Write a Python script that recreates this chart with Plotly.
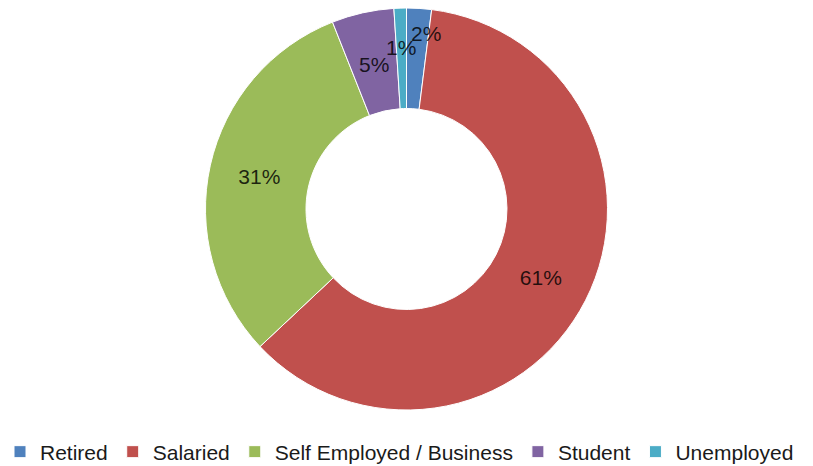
import math
import plotly.graph_objects as go

# Occupation breakdown of respondents
categories = ["Retired", "Salaried", "Self Employed / Business", "Student", "Unemployed"]
shares = [2, 61, 31, 5, 1]
colors = ["#4F81BD", "#C0504D", "#9BBB59", "#8064A2", "#4BACC6"]

W, H = 813, 466
FONT = "Liberation Sans, Arial, sans-serif"
TEXT_COLOR = "rgba(0,0,0,0.82)"

# Donut geometry in pixels (paper has no margins)
cy_px, radius_px = 209, 201
dom_y = [1 - (cy_px + radius_px) / H, 1 - (cy_px - radius_px) / H]
cx_px = W / 2

# Thin slices get their labels as annotations (placed along each slice's
# mid-angle); the wide slices keep the pie's own inside text.
small = [s < 10 for s in shares]
label_radius = {0: 0.875, 3: 0.737, 4: 0.806}
label_xshift = {0: 8, 3: 0, 4: 0}

fig = go.Figure(
    go.Pie(
        labels=categories,
        values=shares,
        hole=0.5,
        sort=False,
        direction="clockwise",
        rotation=0,
        domain=dict(x=[0, 1], y=dom_y),
        marker=dict(colors=colors, line=dict(color="white", width=1)),
        texttemplate=["" if sm else "%{value}%" for sm in small],
        textposition="inside",
        insidetextorientation="horizontal",
        textfont=dict(family=FONT, size=21, color=TEXT_COLOR),
        hoverinfo="label+percent",
    )
)

total = sum(shares)
annotations = []
cum = 0
for i, s in enumerate(shares):
    mid = (cum + s / 2) / total * 2 * math.pi
    cum += s
    if not small[i]:
        continue
    r = label_radius[i] * radius_px
    x_px = cx_px + r * math.sin(mid)
    y_px = cy_px - r * math.cos(mid)
    annotations.append(
        dict(
            x=x_px / W,
            y=1 - y_px / H,
            xref="paper",
            yref="paper",
            xanchor="center",
            yanchor="middle",
            text=f"{s}%",
            showarrow=False,
            xshift=label_xshift[i],
            font=dict(family=FONT, size=21, color=TEXT_COLOR),
        )
    )

fig.update_layout(
    width=W,
    height=H,
    margin=dict(l=0, r=0, t=0, b=0, autoexpand=False),
    paper_bgcolor="white",
    plot_bgcolor="white",
    annotations=annotations,
    showlegend=True,
    legend=dict(
        orientation="h",
        x=0,
        xanchor="left",
        y=1 - 452 / H,
        yanchor="middle",
        font=dict(family=FONT, size=21, color="#1a1a1a"),
        itemclick=False,
    ),
)

fig.write_html("out.html")
